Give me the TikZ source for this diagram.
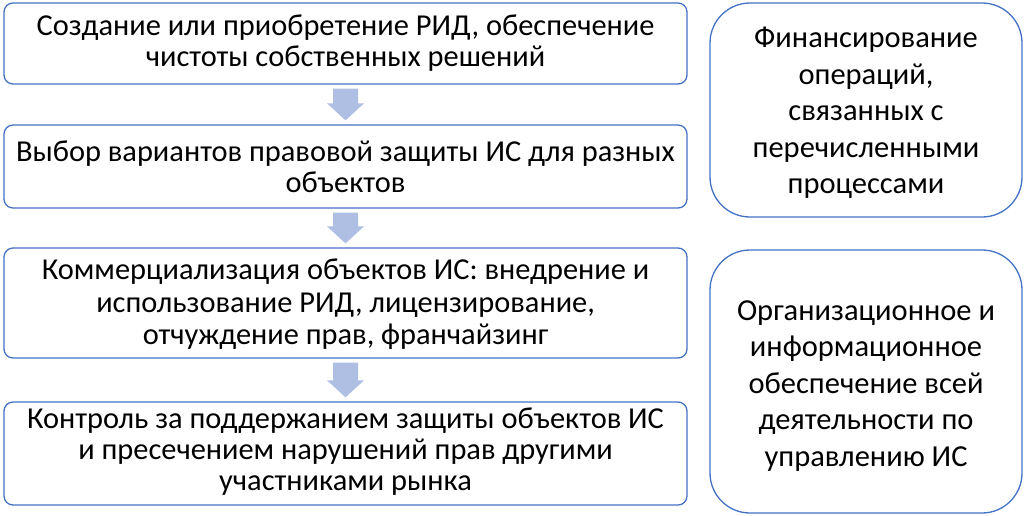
\documentclass[tikz,border=0pt]{standalone}
\usepackage{fontspec}
\setmainfont{Carlito}
\usetikzlibrary{calc}
\definecolor{edgeblue}{HTML}{4472C4}
\definecolor{arrowblue}{HTML}{AFBFE3}
\tikzset{
  leftbox/.style={draw=edgeblue, line width=1.3pt, rounded corners=9pt, fill=white,
    minimum width=683pt, align=center, inner sep=0pt, text=black},
  rightbox/.style={draw=edgeblue, line width=1.3pt, rounded corners=40pt, fill=white,
    minimum width=312pt, inner sep=0pt},
  righttext/.style={align=center, inner sep=0pt, text=black,
    font=\fontsize{30.5}{36.5}\selectfont},
}
\newcommand\blockarr[2]{%
  \fill[arrowblue] let \p1=(#1.south), \p2=(#2.north) in
    (\x1-12.5pt,\y1-4pt) -- (\x1+12.5pt,\y1-4pt) -- (\x1+12.5pt,\y2+21pt)
    -- (\x1+18.5pt,\y2+21pt) -- (\x1,\y2+4pt) -- (\x1-18.5pt,\y2+21pt)
    -- (\x1-12.5pt,\y2+21pt) -- cycle;}
\begin{document}
\begin{tikzpicture}[x=1pt,y=-1pt]
\useasboundingbox (0,0) rectangle (1024,515);
\node[leftbox, minimum height=81pt, font=\fontsize{30.4}{31}\selectfont] (b1) at (345.5,43.5)
  {Создание или приобретение РИД, обеспечение\\чистоты собственных решений};
\node[leftbox, minimum height=83pt, font=\fontsize{30.4}{31}\selectfont] (b2) at (345.5,166.5)
  {Выбор вариантов правовой защиты ИС для разных\\объектов};
\node[leftbox, minimum height=110pt] (b3) at (345.5,303) {};
\node[align=center, inner sep=0pt, font=\fontsize{30.4}{32.5}\selectfont] (b3t) at ([yshift=-1.5pt]b3.center)
  {Коммерциализация объектов ИС: внедрение и\\использование РИД, лицензирование,\\отчуждение прав, франчайзинг};
\node[leftbox, minimum height=103pt] (b4) at (345.5,453.5) {};
\node[align=center, inner sep=0pt, font=\fontsize{30.4}{31}\selectfont] (b4t) at ([yshift=1.5pt]b4.center)
  {Контроль за поддержанием защиты объектов ИС\\и пресечением нарушений прав другими\\участниками рынка};
\node[rightbox, minimum height=214pt] (r1) at (866,110) {};
\node[righttext] (r1t) at ([yshift=-3pt]r1.center)
  {Финансирование\\операций,\\связанных с\\перечисленными\\процессами};
\node[rightbox, minimum height=263pt] (r2) at (866,381.5) {};
\node[righttext] (r2t) at ([yshift=-4.5pt]r2.center)
  {Организационное и\\информационное\\обеспечение всей\\деятельности по\\управлению ИС};
\blockarr{b1}{b2}
\blockarr{b2}{b3}
\blockarr{b3}{b4}
\end{tikzpicture}
\end{document}
